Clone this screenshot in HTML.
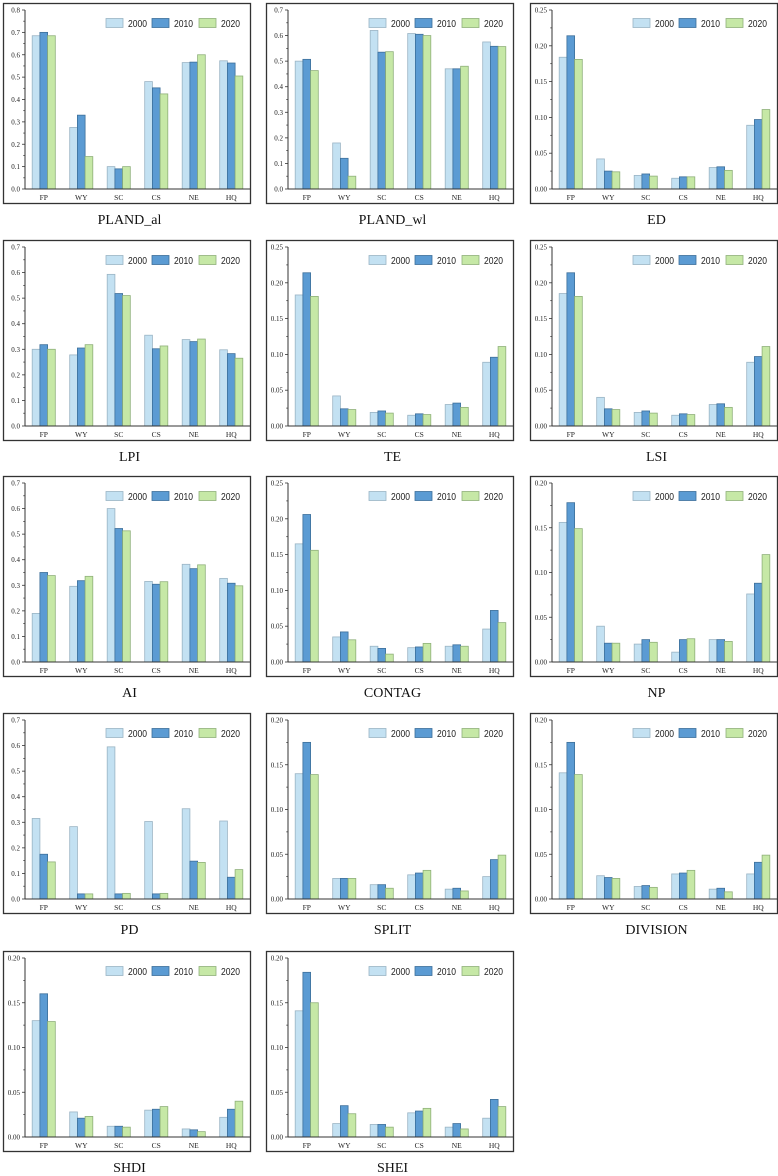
<!DOCTYPE html>
<html><head><meta charset="utf-8"><style>
html,body{margin:0;padding:0;background:#fff;}
svg{display:block;font-family:"Liberation Serif",serif;}
</style></head><body>
<svg id="c" width="778" height="1176"></svg>
<script>
const categories = ["FP","WY","SC","CS","NE","HQ"];
const years = ["2000","2010","2020"];
const titles = ["PLAND_al","PLAND_wl","ED","LPI","TE","LSI","AI","CONTAG","NP","PD","SPLIT","DIVISION","SHDI","SHEI"];
const yMax = [0.8,0.7,0.25,0.7,0.25,0.25,0.7,0.25,0.2,0.7,0.2,0.2,0.2,0.2];
const yStep = [0.1,0.1,0.05,0.1,0.05,0.05,0.1,0.05,0.05,0.1,0.05,0.05,0.05,0.05];
const yDec = [1,1,2,1,2,2,1,2,2,1,2,2,2,2];
const s2000 = [
 [.685,.275,.10,.48,.565,.573],
 [.50,.18,.62,.608,.47,.575],
 [.184,.042,.019,.015,.030,.089],
 [.30,.278,.593,.355,.338,.298],
 [.183,.042,.019,.015,.030,.089],
 [.185,.040,.019,.015,.030,.089],
 [.19,.296,.60,.315,.382,.327],
 [.165,.035,.022,.020,.022,.046],
 [.156,.040,.020,.011,.025,.076],
 [.315,.283,.595,.303,.353,.305],
 [.140,.023,.016,.027,.011,.025],
 [.141,.026,.014,.028,.011,.028],
 [.130,.028,.012,.030,.009,.022],
 [.141,.015,.014,.027,.011,.021]];
const s2010 = [
 [.70,.33,.09,.452,.567,.563],
 [.507,.12,.535,.605,.47,.558],
 [.214,.025,.021,.017,.031,.097],
 [.318,.305,.518,.302,.33,.283],
 [.214,.024,.021,.017,.032,.096],
 [.214,.024,.021,.017,.031,.097],
 [.35,.318,.522,.304,.365,.308],
 [.206,.042,.019,.021,.024,.072],
 [.178,.021,.025,.025,.025,.088],
 [.175,.02,.02,.02,.148,.085],
 [.175,.023,.016,.029,.012,.044],
 [.175,.024,.015,.029,.012,.041],
 [.160,.021,.012,.031,.008,.031],
 [.184,.035,.014,.029,.015,.042]];
const s2020 = [
 [.685,.145,.10,.425,.60,.505],
 [.463,.05,.537,.60,.48,.557],
 [.181,.024,.018,.017,.026,.111],
 [.30,.318,.51,.313,.34,.265],
 [.181,.023,.018,.016,.026,.111],
 [.181,.023,.018,.016,.026,.111],
 [.338,.335,.513,.314,.38,.298],
 [.156,.031,.011,.026,.022,.055],
 [.149,.021,.022,.026,.023,.120],
 [.145,.02,.022,.022,.143,.115],
 [.139,.023,.012,.032,.009,.049],
 [.139,.023,.013,.032,.008,.049],
 [.129,.023,.011,.034,.006,.040],
 [.150,.026,.011,.032,.009,.034]];
const series = [s2000,s2010,s2020];
const fills = ["#c3e1f2","#5b9bd3","#c6e8a6"];
const strokes = ["#9ab4c4","#3d6f9a","#8fb07a"];
const NS="http://www.w3.org/2000/svg";
const svg=document.getElementById('c');
function mk(tag,attrs,parent){const e=document.createElementNS(NS,tag);for(const k in attrs)e.setAttribute(k,attrs[k]);(parent||svg).appendChild(e);return e;}
const colX=[3,266,530], rowY=[3,240,476,713,951], W=247, H=200;
titles.forEach((t,i)=>{
  const bx=colX[i%3], by=rowY[Math.floor(i/3)];
  const g=mk('g',{});
  
  
  const box=mk('rect',{x:bx+0.5,y:by+0.5,width:W,height:H,fill:'none',stroke:'#333','stroke-width':1.3},g);
  
  
  const x0=bx+22, x1=bx+W, yT=by+7, yB=by+186;
  const ys=v=>yB-(v/yMax[i])*(yB-yT);
  const cw=(x1-x0)/6, bw=7.7;
  const xs=(c,s)=>x0+cw*(c+0.5)+(s-1.5)*bw;
  for(let s=0;s<3;s++){for(let c=0;c<6;c++){
    const v=series[s][i][c];
    const r=mk('rect',{x:xs(c,s),y:ys(v),width:bw,height:yB-ys(v),fill:fills[s],stroke:strokes[s],'stroke-width':0.8},g);
    
    
  }}
  const ya=mk('line',{x1:x0,y1:yT,x2:x0,y2:yB,stroke:'#333','stroke-width':1},g);
  
  
  const xa=mk('line',{x1:x0,y1:yB,x2:x1,y2:yB,stroke:'#333','stroke-width':1},g);
  
  
  const n=Math.round(yMax[i]/yStep[i]);
  for(let k=0;k<=n;k++){
    const v=k*yStep[i], y=ys(v);
    mk('line',{x1:x0-3,y1:y,x2:x0,y2:y,stroke:'#333','stroke-width':0.8},g);
    if(k<n) mk('line',{x1:x0-1.8,y1:ys(v+yStep[i]/2),x2:x0,y2:ys(v+yStep[i]/2),stroke:'#333','stroke-width':0.7},g);
    const tl=mk('text',{x:x0-5,y:y+2.5,'font-size':7,'text-anchor':'end',fill:'#222'},g);
    tl.textContent=v.toFixed(yDec[i]);
    
    
  }
  categories.forEach((c,ci)=>{
    const tl=mk('text',{x:x0+cw*(ci+0.5),y:yB+11,'font-size':7.5,'text-anchor':'middle',fill:'#222'},g);
    tl.textContent=c;
    
    
  });
  const lx=[bx+103,bx+149,bx+196];
  years.forEach((yr,s)=>{
    const sw=mk('rect',{x:lx[s],y:by+15.5,width:17,height:9,fill:fills[s],stroke:strokes[s],'stroke-width':0.8},g);
    
    
    const lt=mk('text',{x:lx[s]+22,y:by+24,'font-size':10,fill:'#222','font-family':'Liberation Sans, sans-serif',textLength:19,lengthAdjust:'spacingAndGlyphs'},g);
    lt.textContent=yr;
    
    
  });
  const tt=mk('text',{x:bx+W/2+3,y:by+221,'font-size':14,'text-anchor':'middle',fill:'#111'},g);
  tt.textContent=t;
  
  
});
</script>
</body></html>
